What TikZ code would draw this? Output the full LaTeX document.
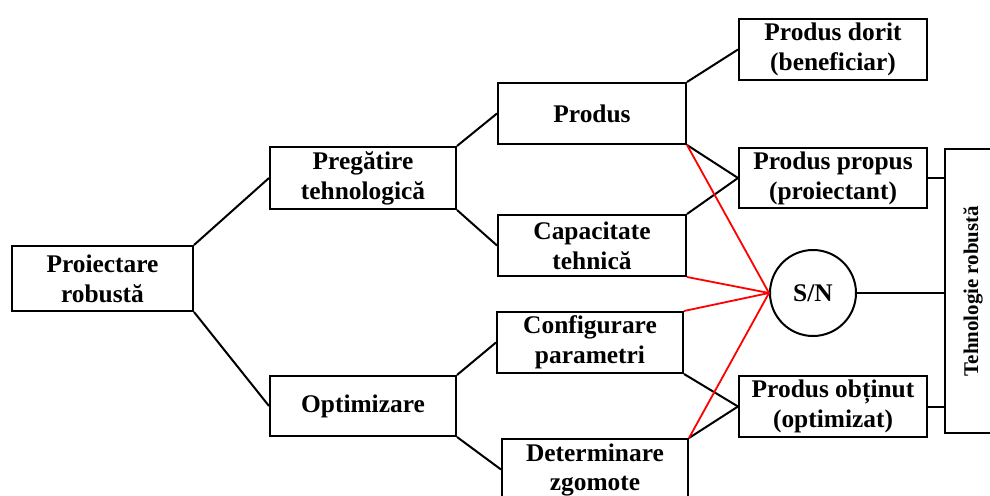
\documentclass[tikz,border=0pt]{standalone}
\usepackage{fontspec}
\setmainfont{Liberation Serif}
\usetikzlibrary{shapes.geometric}

\begin{document}
\begin{tikzpicture}[x=1bp, y=-1bp]

\tikzstyle{box}=[rectangle, draw, line width=2bp, align=center, inner sep=0pt,
                 minimum width=188bp, minimum height=61bp,
                 font=\fontsize{25.5}{30}\selectfont\bfseries]
\tikzstyle{boxtext}=[align=center, inner sep=0pt, font=\fontsize{25.5}{30}\selectfont\bfseries]
\tikzstyle{link}=[line width=2bp]
\tikzstyle{redlink}=[red, line width=1.8bp]

\useasboundingbox (0,0) rectangle (990,496);

% first and second level
\node (PR) [box, minimum width=181bp, minimum height=65bp] at (102.5,278.5) {Proiectare\\robustă};
\node (PT) [box, minimum width=186bp, minimum height=62bp] at (363,178) {Pregătire\\tehnologică};
\node (OP) [box, minimum width=186bp, minimum height=60bp] at (363,406) {Optimizare};

% third level
\node (PD) [box] at (592,113.5) {Produs};
\node (CT) [box, minimum height=61bp] at (592,245.5) {Capacitate\\tehnică};
\node (CP) [box, minimum width=186bp] at (590,342.5) {Configurare\\parametri};
\node (DZ) [box, minimum width=186bp] at (595,469.5) {};
\node [boxtext] at (595,470) {Determinare\\zgomote};

% results
\node (DO) [box] at (833,49.5) {Produs dorit\\(beneficiar)};
\node (PP) [box, minimum height=60bp] at (833,178) {Produs propus\\(proiectant)};
\node (PO) [box] at (833,406.5) {Produs obținut\\(optimizat)};
\node (SN) [circle, draw, line width=2bp, minimum size=86bp, inner sep=0pt,
            font=\fontsize{25.5}{30}\selectfont\bfseries] at (813,293) {S/N};
\node (TR) [box, minimum width=60bp, minimum height=284bp] at (975,291) {};
\node [boxtext, rotate=90, font=\fontsize{21}{25}\selectfont\bfseries] at (973,291) {Tehnologie robustă};

% tree
\draw[link] (PR.north east) -- (PT.west);
\draw[link] (PR.south east) -- (OP.west);
\draw[link] (PT.north east) -- (PD.west);
\draw[link] (PT.south east) -- (CT.west);
\draw[link] (OP.north east) -- (CP.west);
\draw[link] (OP.south east) -- (DZ.west);
\draw[link] (PD.north east) -- (DO.west);
\draw[link] (PD.south east) -- (PP.west);
\draw[link] (CT.north east) -- (PP.west);
\draw[link] (CP.south east) -- (PO.west);
\draw[link] (DZ.north east) -- (PO.west);
\draw[link] (PP.east) -- (PP.east -| TR.west);
\draw[link] (PO.east) -- (PO.east -| TR.west);
\draw[link] (SN.east) -- (SN.east -| TR.west);

% signal / noise
\draw[redlink] (PD.south east) -- (SN.west);
\draw[redlink] (CT.south east) -- (SN.west);
\draw[redlink] (CP.north east) -- (SN.west);
\draw[redlink] (DZ.north east) -- (SN.west);

\end{tikzpicture}
\end{document}
